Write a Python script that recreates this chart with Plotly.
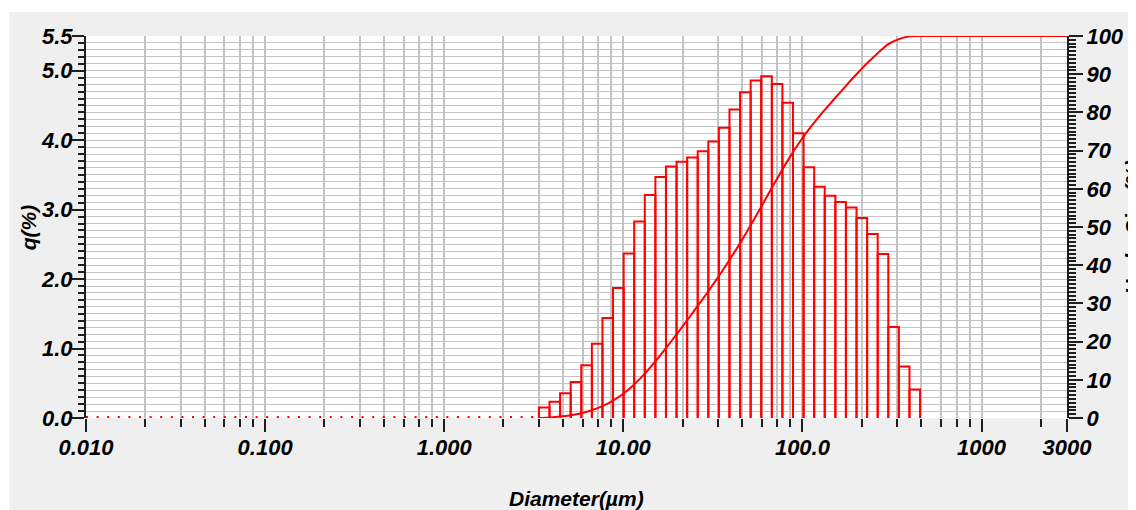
import numpy as np
import plotly.graph_objects as go

# ---------------- data ----------------
# size-channel edges (µm) that carry signal
bin_edges = [3.379, 3.872, 4.436, 5.083, 5.824, 6.673, 7.646, 8.761, 10.04, 11.50,
             13.18, 15.10, 17.30, 19.82, 22.71, 26.02, 29.82, 34.16, 39.14, 44.85,
             51.39, 58.88, 67.47, 77.30, 88.57, 101.5, 116.3, 133.2, 152.7, 174.9,
             200.4, 229.7, 263.1, 301.5, 345.5, 395.9, 453.6]
# frequency q(%) per channel
q_percent = [0.15, 0.235, 0.355, 0.52, 0.76, 1.07, 1.44, 1.87, 2.37, 2.83,
             3.21, 3.47, 3.62, 3.69, 3.75, 3.84, 3.98, 4.18, 4.44, 4.69,
             4.86, 4.92, 4.81, 4.54, 4.10, 3.61, 3.33, 3.20, 3.11, 3.03,
             2.88, 2.65, 2.36, 1.31, 0.74, 0.41]
# cumulative undersize (%) at each edge
undersize_percent = [0, 0.15, 0.39, 0.74, 1.26, 2.02, 3.09, 4.53, 6.40, 8.77,
                     11.60, 14.81, 18.28, 21.90, 25.59, 29.34, 33.18, 37.16, 41.34, 45.78,
                     50.47, 55.33, 60.25, 65.06, 69.60, 73.70, 77.31, 80.64, 83.84, 86.95,
                     89.98, 92.86, 95.51, 97.87, 99.18, 99.92, 100.0]
x_min, x_max = 0.01, 3000
x_tick_vals = [0.01, 0.1, 1, 10, 100, 1000, 3000]
x_tick_text = ["0.010", "0.100", "1.000", "10.00", "100.0", "1000", "3000"]
y_tick_vals = [0, 1, 2, 3, 4, 5, 5.5]
y_tick_text = ["0.0", "1.0", "2.0", "3.0", "4.0", "5.0", "5.5"]
y2_tick_vals = [0, 10, 20, 30, 40, 50, 60, 70, 80, 90, 100]

# ---------------- figure ----------------
OFF = 8                      # page body margin
W, H = 1136 - OFF, 510 - OFF
L, T = 86 - OFF, 36 - OFF
R, B = W - (1071 - OFF), H - (418 - OFF)
PW, PH = W - L - R, H - T - B


def px_x(xp):   # page pixel -> paper x
    return (xp - OFF - L) / PW


def px_y(yp):   # page pixel -> paper y
    return 1 - (yp - OFF - T) / PH


RED = "#ff0000"
FONT = "Liberation Sans, Arial, sans-serif"
tickfont = dict(family=FONT, size=22, color="#000000", weight="bold", style="italic")
titlefont = dict(family=FONT, size=21, color="#000000", weight="bold", style="italic")

# histogram outline built from edges/values
bx, by = [], []
for i, v in enumerate(q_percent):
    bx += [bin_edges[i], bin_edges[i], bin_edges[i + 1], bin_edges[i + 1], None]
    by += [0, v, v, 0, None]

fig = go.Figure()
# empty channels shown as dotted zero line
fig.add_trace(go.Scatter(x=[x_min, bin_edges[0]], y=[0, 0], mode="lines",
                         line=dict(color=RED, width=4, dash="2px,8.6px"),
                         hoverinfo="skip", showlegend=False))
fig.add_trace(go.Scatter(x=bx, y=by, mode="lines",
                         line=dict(color=RED, width=2),
                         showlegend=False))
fig.add_trace(go.Scatter(x=bin_edges + [x_max], y=undersize_percent + [100],
                         mode="lines", yaxis="y2",
                         line=dict(color=RED, width=2, shape="spline", smoothing=0.6),
                         showlegend=False))

minor_x = []
for d in [0.01, 0.1, 1, 10, 100, 1000]:
    for m in [2.14, 3.37, 4.62, 5.93, 7.25, 8.57]:
        if d * m < x_max:
            minor_x.append(d * m)

GRID = "#c4c4c4"
TICK = "#1e1e1e"

fig.update_layout(
    width=W, height=H,
    margin=dict(l=L, r=R, t=T, b=B, pad=0),
    paper_bgcolor="#efefef",
    plot_bgcolor="#ffffff",
    showlegend=False,
    xaxis=dict(
        type="log", range=[np.log10(x_min), np.log10(x_max)],
        tickmode="array", tickvals=x_tick_vals, ticktext=x_tick_text,
        ticks="outside", ticklen=13, tickwidth=2, tickcolor=TICK,
        tickfont=tickfont, ticklabelstandoff=-3,
        showgrid=True, gridcolor=GRID, gridwidth=2,
        showline=False, zeroline=False,
        minor=dict(tickmode="array", tickvals=minor_x, ticks="outside", ticklen=8,
                   tickwidth=2, tickcolor=TICK, showgrid=True,
                   gridcolor=GRID, gridwidth=2),
    ),
    yaxis=dict(
        range=[0, 5.5], tickmode="array", tickvals=y_tick_vals, ticktext=y_tick_text,
        ticks="outside", ticklen=12, tickwidth=2, tickcolor=TICK,
        tickfont=tickfont, ticklabelstandoff=-5,
        showgrid=True, gridcolor=GRID, gridwidth=1,
        showline=True, linecolor=TICK, linewidth=2, zeroline=False,
        minor=dict(tickmode="array", tickvals=[round(0.1 * k, 1) for k in range(56)],
                   ticks="outside", ticklen=6, tickwidth=2, tickcolor=TICK,
                   showgrid=True, gridcolor=GRID, gridwidth=1),
    ),
    yaxis2=dict(
        range=[0, 100], overlaying="y", side="right", anchor="x",
        tickmode="array", tickvals=y2_tick_vals,
        ticks="outside", ticklen=14, tickwidth=2, tickcolor=TICK,
        tickfont=tickfont, ticklabelstandoff=-1,
        showgrid=False, zeroline=False,
        showline=True, linecolor=TICK, linewidth=2,
        minor=dict(tickmode="array", tickvals=list(range(101)), ticks="outside",
                   ticklen=7, tickwidth=1.5, tickcolor=TICK, showgrid=False),
    ),
)

# white strips at the top and left edges of the picture
fig.add_shape(type="rect", xref="paper", yref="paper",
              x0=px_x(0) - 0.01, x1=px_x(1137),
              y0=px_y(12), y1=px_y(0) + 0.01,
              fillcolor="#ffffff", line=dict(width=0), layer="below")
fig.add_shape(type="rect", xref="paper", yref="paper",
              x0=px_x(0) - 0.01, x1=px_x(9),
              y0=px_y(511), y1=px_y(0) + 0.01,
              fillcolor="#ffffff", line=dict(width=0), layer="below")

# axis titles
fig.add_annotation(text="q(%)", xref="paper", yref="paper",
                   x=px_x(28), y=0.5, textangle=-90, showarrow=False,
                   xanchor="center", yanchor="middle", font=titlefont)
fig.add_annotation(text="Diameter(µm)", xref="paper", yref="paper",
                   x=0.5, y=px_y(498), showarrow=False,
                   xanchor="center", yanchor="middle", font=titlefont)
fig.add_annotation(text="UnderSize(%)", xref="paper", yref="paper",
                   x=px_x(1136), y=0.5, textangle=-90, showarrow=False,
                   xanchor="center", yanchor="middle", font=titlefont)

fig.write_html("out.html")
